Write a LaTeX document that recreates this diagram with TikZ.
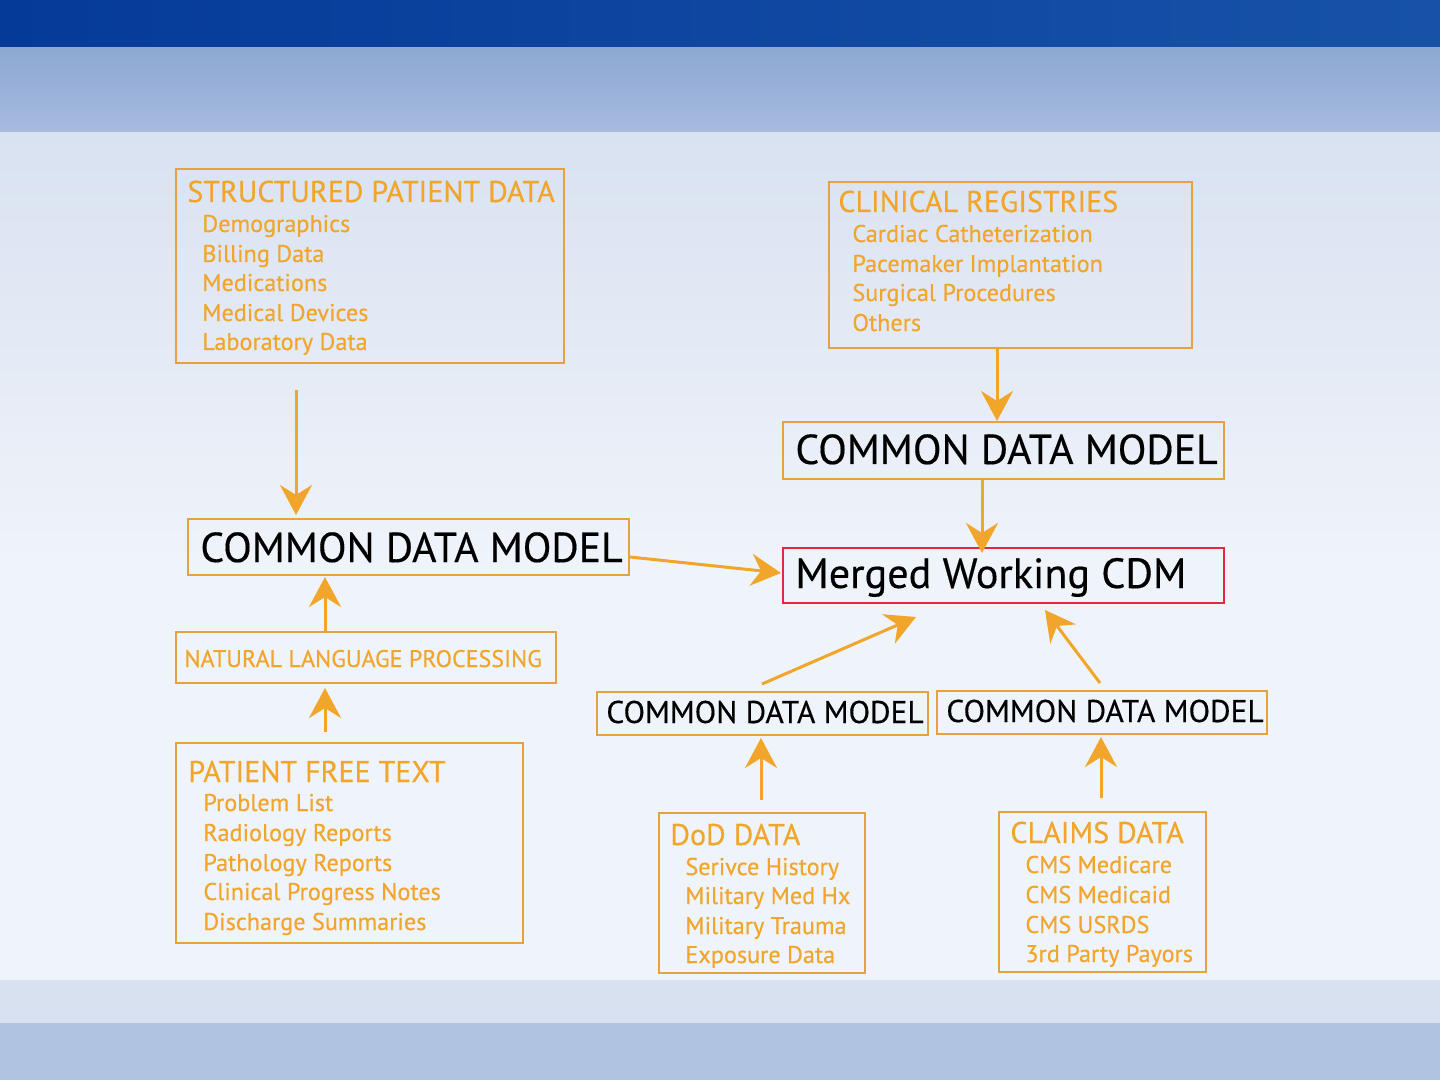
\documentclass[tikz,border=0pt]{standalone}
\usepackage{fontspec}
\setmainfont{PT Sans}[FakeBold=0.35]
\usetikzlibrary{arrows.meta}
\definecolor{org}{HTML}{F2A52B}
\definecolor{bord}{HTML}{E6A23E}
\definecolor{redb}{HTML}{E5283F}
\definecolor{topA}{HTML}{053A99}
\definecolor{topB}{HTML}{1752A8}
\definecolor{bandA}{HTML}{8DA8D3}
\definecolor{bandB}{HTML}{A7BBDF}
\definecolor{mainA}{HTML}{D9E2F1}
\definecolor{mainB}{HTML}{EFF3FA}
\definecolor{lowA}{HTML}{D8E1F0}
\definecolor{lowB}{HTML}{B0C3E1}
\tikzset{
  box/.style={draw=bord, line width=1pt, anchor=north west, inner sep=0pt},
  mbox/.style={draw=redb, line width=0.8pt, anchor=north west, inner sep=0pt},
  ttl/.style={anchor=base west, inner sep=0pt, text=org, font=\fontsize{15}{18}\selectfont},
  itm/.style={anchor=base west, inner sep=0pt, text=org, font=\fontsize{12.1}{14}\selectfont},
  big/.style={anchor=base west, inner sep=0pt, text=black, font=\fontsize{20.9}{24}\selectfont},
  mbig/.style={anchor=base west, inner sep=0pt, text=black, font=\fontsize{21.1}{24}\selectfont},
  mid/.style={anchor=base west, inner sep=0pt, text=black, font=\fontsize{15.7}{18}\selectfont},
  nlp/.style={anchor=base west, inner sep=0pt, text=org, font=\fontsize{12}{14}\selectfont},
  arr/.style={draw=org, line width=1.5pt, -{Stealth[length=15pt,width=16pt,inset=5pt]}},
}
\begin{document}
\begin{tikzpicture}[x=0.5pt,y=-0.5pt]
\useasboundingbox (0,0) rectangle (1440,1080);
% background
\shade[left color=topA, right color=topB] (0,0) rectangle (1440,48);
\shade[top color=bandA, bottom color=bandB] (0,48) rectangle (1440,133);
\shade[top color=mainA, bottom color=mainB] (0,133) rectangle (1440,560);
\fill[mainB] (0,559) rectangle (1440,980);
\fill[lowA] (0,980) rectangle (1440,1023);
\fill[lowB] (0,1023) rectangle (1440,1080);

% boxes
\node[box, minimum width=194pt, minimum height=97pt] (sp) at (175,168) {};
\node[box, minimum width=181.5pt, minimum height=83pt] (cr) at (828,181) {};
\node[box, minimum width=220.5pt, minimum height=28.5pt] (cdmtr) at (782,421) {};
\node[box, minimum width=220.5pt, minimum height=28pt] (cdml) at (187,518) {};
\node[mbox, minimum width=220.5pt, minimum height=27.5pt] (mw) at (782,547) {};
\node[box, minimum width=190pt, minimum height=25.5pt] (nlp) at (175,631) {};
\node[box, minimum width=173.5pt, minimum height=100pt] (pft) at (175,742) {};
\node[box, minimum width=165.5pt, minimum height=21.5pt] (cdmbm) at (596,691) {};
\node[box, minimum width=165pt, minimum height=21.5pt] (cdmbr) at (936,690) {};
\node[box, minimum width=103pt, minimum height=80pt] (dod) at (658,812) {};
\node[box, minimum width=103.5pt, minimum height=80pt] (cl) at (998,811) {};

% texts
\node[ttl] (spt) at (187,202) {STRUCTURED PATIENT DATA};
\node[itm] (sp1) at (202,232) {Demographics};
\node[itm] (sp2) at (202,262) {Billing Data};
\node[itm] (sp3) at (202,291) {Medications};
\node[itm] (sp4) at (202,321) {Medical Devices};
\node[itm] (sp5) at (202,350) {Laboratory Data};

\node[ttl] (crt) at (838,212) {CLINICAL REGISTRIES};
\node[itm] (cr1) at (852,242) {Cardiac Catheterization};
\node[itm] (cr2) at (852,272) {Pacemaker Implantation};
\node[itm] (cr3) at (852,301) {Surgical Procedures};
\node[itm] (cr4) at (852,331) {Others};

\node[big] (cdmtrt) at (795,464) {COMMON DATA MODEL};
\node[big] (cdmlt) at (200,562) {COMMON DATA MODEL};
\node[mbig] (mwt) at (795,588) {Merged Working CDM};
\node[nlp] (nlpt) at (184,667) {NATURAL LANGUAGE PROCESSING};
\node[mid] (cdmbmt) at (606,723) {COMMON DATA MODEL};
\node[mid] (cdmbrt) at (946,722) {COMMON DATA MODEL};

\node[ttl] (pftt) at (188,782) {PATIENT FREE TEXT};
\node[itm] (pf1) at (203,811) {Problem List};
\node[itm] (pf2) at (203,841) {Radiology Reports};
\node[itm] (pf3) at (203,871) {Pathology Reports};
\node[itm] (pf4) at (203,900) {Clinical Progress Notes};
\node[itm] (pf5) at (203,930) {Discharge Summaries};

\node[ttl] (dodt) at (670,845) {DoD DATA};
\node[itm] (dd1) at (685,875) {Serivce History};
\node[itm] (dd2) at (685,904) {Military Med Hx};
\node[itm] (dd3) at (685,934) {Military Trauma};
\node[itm] (dd4) at (685,963) {Exposure Data};

\node[ttl] (clt) at (1010,843) {CLAIMS DATA};
\node[itm] (cl1) at (1025,873) {CMS Medicare};
\node[itm] (cl2) at (1025,903) {CMS Medicaid};
\node[itm] (cl3) at (1025,933) {CMS USRDS};
\node[itm] (cl4) at (1025,962) {3rd Party Payors};

% arrow end points
\coordinate (a1s) at (296,390); \coordinate (a1e) at (296,515);
\coordinate (a3e) at (982,553);
\coordinate (a4e) at (781,573);
\coordinate (a5e) at (325,577);
\coordinate (a6s) at (325,732); \coordinate (a6e) at (325,688);
\coordinate (a7s) at (761,800); \coordinate (a7e) at (761,738);
\coordinate (a8s) at (1101,798); \coordinate (a8e) at (1101,737);
\coordinate (a9s) at (762,684); \coordinate (a9e) at (916,617);
\coordinate (a10s) at (1100,683); \coordinate (a10e) at (1045,610);

\draw[arr] (a1s) -- (a1e);
\draw[arr] (cr.south -| 997,0) -- (cdmtr.north -| 997,0);
\draw[arr] (cdmtr.south -| 982,0) -- (a3e);
\draw[arr] (cdml.east |- 0,557) -- (a4e);
\draw[arr] (nlp.north -| 325,0) -- (a5e);
\draw[arr] (a6s) -- (a6e);
\draw[arr] (a7s) -- (a7e);
\draw[arr] (a8s) -- (a8e);
\draw[arr] (a9s) -- (a9e);
\draw[arr] (a10s) -- (a10e);
\end{tikzpicture}
\end{document}
